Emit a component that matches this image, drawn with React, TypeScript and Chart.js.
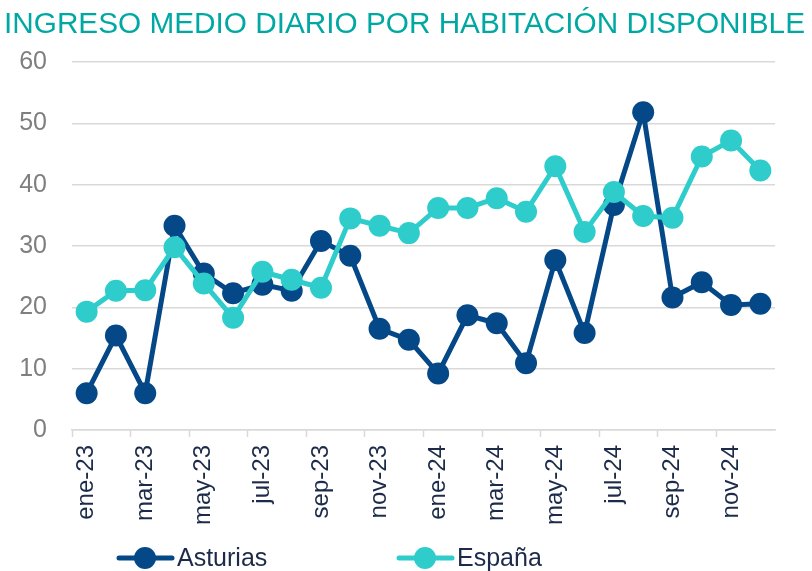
import React, { useEffect, useRef } from "react";
import { Chart, registerables } from "chart.js";

Chart.register(...registerables);

const TITLE = "INGRESO MEDIO DIARIO POR HABITACIÓN DISPONIBLE";

const months = [
  "ene-23", "feb-23", "mar-23", "abr-23", "may-23", "jun-23",
  "jul-23", "ago-23", "sep-23", "oct-23", "nov-23", "dic-23",
  "ene-24", "feb-24", "mar-24", "abr-24", "may-24", "jun-24",
  "jul-24", "ago-24", "sep-24", "oct-24", "nov-24", "dic-24",
];

const asturias = [
  6.0, 15.4, 6.0, 33.3, 25.5, 22.3, 23.7, 22.7, 30.8, 28.4, 16.5, 14.7,
  9.2, 18.7, 17.4, 10.9, 27.7, 15.8, 36.7, 51.8, 21.6, 24.1, 20.4, 20.6,
];

const espana = [
  19.3, 22.7, 22.8, 29.8, 23.9, 18.3, 25.8, 24.5, 23.2, 34.5, 33.3, 32.1,
  36.2, 36.2, 37.8, 35.6, 43.0, 32.3, 38.8, 34.9, 34.6, 44.6, 47.2, 42.3,
];

const yTicks = [0, 10, 20, 30, 40, 50, 60];

const seriesNames = ["Asturias", "España"];
const NAVY = "#044887";
const CYAN = "#2ECDCB";
const TEAL = "#00A8A3";
const FONT = "'Liberation Sans', Arial, sans-serif";

const overlayPlugin = {
  id: "overlay",
  afterDraw(chart: any) {
    const ctx = chart.ctx as CanvasRenderingContext2D;
    ctx.save();
    // title
    ctx.fillStyle = TEAL;
    ctx.font = `30px ${FONT}`;
    ctx.textBaseline = "alphabetic";
    ctx.textAlign = "left";
    ctx.fillText(TITLE, 4, 33, 801);

    // legend
    const items = [
      { name: seriesNames[0], color: NAVY, x: 117 },
      { name: seriesNames[1], color: CYAN, x: 397 },
    ];
    const y = 558;
    items.forEach((it) => {
      ctx.strokeStyle = it.color;
      ctx.lineWidth = 5;
      ctx.lineCap = "round";
      ctx.beginPath();
      ctx.moveTo(it.x + 2, y);
      ctx.lineTo(it.x + 55, y);
      ctx.stroke();
      ctx.fillStyle = it.color;
      ctx.beginPath();
      ctx.arc(it.x + 28, y, 11, 0, Math.PI * 2);
      ctx.fill();
      ctx.fillStyle = "#1C2B4A";
      ctx.font = `25px ${FONT}`;
      ctx.textBaseline = "middle";
      ctx.fillText(it.name, it.x + 60, y + 1);
    });
    ctx.restore();
  },
};

export default function App() {
  const ref = useRef<HTMLCanvasElement | null>(null);

  useEffect(() => {
    if (!ref.current) return;
    const chart = new Chart(ref.current, {
      type: "line",
      data: {
        labels: months,
        datasets: [
          {
            label: seriesNames[0],
            data: asturias,
            borderColor: NAVY,
            backgroundColor: NAVY,
            pointBackgroundColor: NAVY,
            pointBorderColor: NAVY,
            pointBorderWidth: 0,
            pointRadius: 11,
            borderWidth: 5,
            tension: 0,
            order: 2,
          },
          {
            label: seriesNames[1],
            data: espana,
            borderColor: CYAN,
            backgroundColor: CYAN,
            pointBackgroundColor: CYAN,
            pointBorderColor: CYAN,
            pointBorderWidth: 0,
            pointRadius: 11,
            borderWidth: 5,
            tension: 0,
            order: 1,
          },
        ],
      },
      options: {
        responsive: false,
        animation: false,
        devicePixelRatio: 1,
        layout: { padding: { top: 62, right: 37, bottom: 0, left: 0 } },
        plugins: {
          legend: { display: false },
          title: { display: false },
          tooltip: { enabled: false },
        },
        scales: {
          x: {
            offset: true,
            afterFit: (scale: any) => {
              scale.height = 141;
            },
            grid: {
              offset: true,
              drawOnChartArea: false,
              drawTicks: true,
              tickLength: 7,
              tickWidth: 1.5,
              tickColor: (c: any) => (c.index % 2 === 0 ? "#D9D9D9" : "rgba(0,0,0,0)"),
            },
            border: { display: true, color: "#D9D9D9", width: 1.5 },
            ticks: {
              autoSkip: false,
              maxRotation: 90,
              minRotation: 90,
              padding: 8,
              color: "#1C2B4A",
              font: { family: FONT, size: 24 },
              callback: (_v: any, i: number) => (i % 2 === 0 ? months[i] : ""),
            },
          },
          y: {
            min: yTicks[0],
            max: yTicks[yTicks.length - 1],
            afterFit: (scale: any) => {
              scale.width = 72;
            },
            afterBuildTicks: (scale: any) => {
              scale.ticks = yTicks.map((v) => ({ value: v }));
            },
            grid: {
              color: "#D9D9D9",
              lineWidth: 1.5,
              drawTicks: false,
            },
            border: { display: false },
            ticks: {
              padding: 25,
              color: "#7F7F7F",
              font: { family: FONT, size: 25 },
            },
          },
        },
      },
      plugins: [overlayPlugin],
    });
    return () => chart.destroy();
  }, []);

  return (
    <div style={{ position: "absolute", left: 0, top: 0, width: 812, height: 571, background: "#fff" }}>
      <canvas ref={ref} width={812} height={571} style={{ width: 812, height: 571, display: "block" }} />
    </div>
  );
}
